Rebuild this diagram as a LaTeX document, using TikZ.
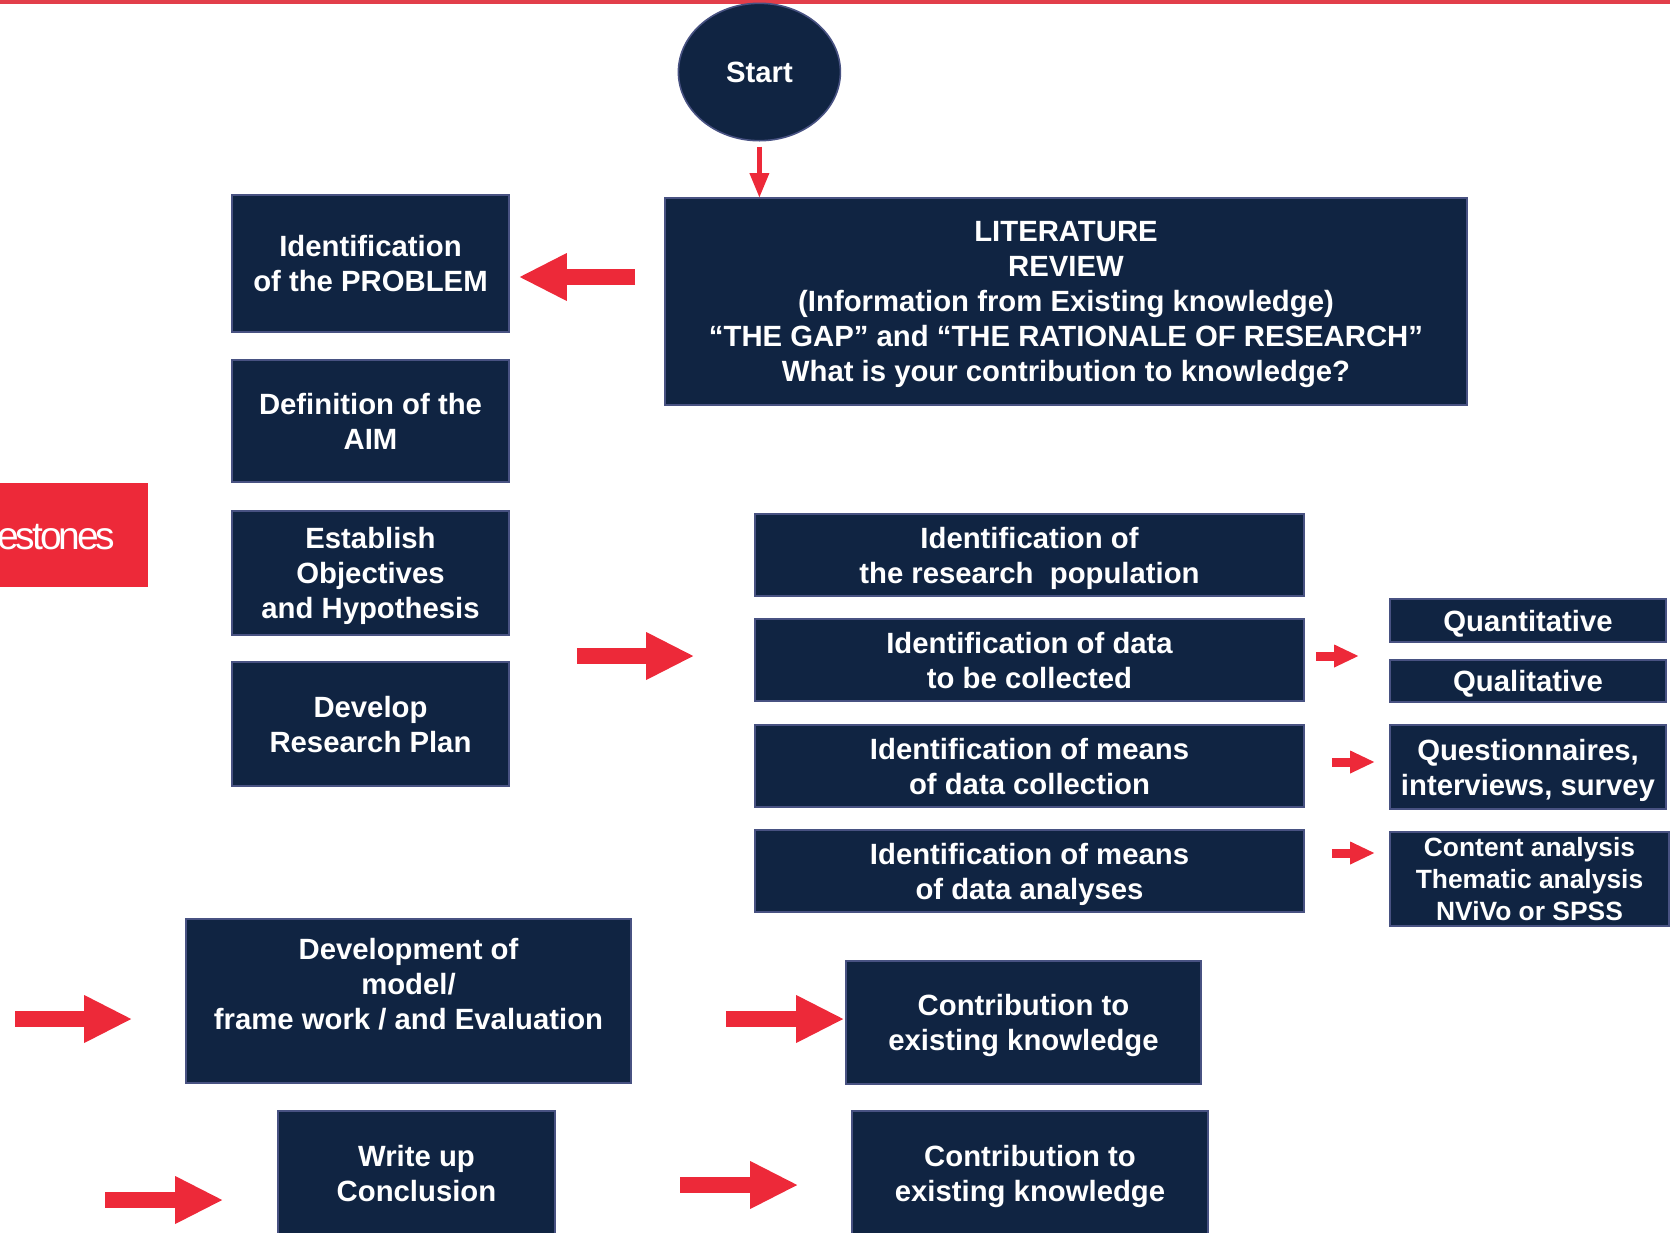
\documentclass[tikz,border=0pt]{standalone}
\usepackage{fontspec}
\setmainfont{Liberation Sans}
\usetikzlibrary{arrows.meta,shapes.geometric}

\definecolor{navy}{RGB}{16,36,66}
\definecolor{boxedge}{RGB}{72,82,130}
\definecolor{flagred}{RGB}{237,41,57}
\definecolor{topred}{RGB}{226,62,74}

\tikzset{every picture/.style={line width=0.75pt}}
\tikzset{
  box/.style={draw=boxedge, fill=navy, text=white, line width=0.8pt, inner sep=0pt,
    align=center, font=\fontsize{14.65pt}{17.5pt}\selectfont\bfseries, text depth=-3pt},
  smallbox/.style={box, font=\fontsize{13.2pt}{16pt}\selectfont\bfseries},
  startnode/.style={box, ellipse},
  bigarrow/.style={draw=flagred, line width=8pt,
    -{Triangle[length=23.5pt, width=24pt, line width=0pt]}},
  smallarrow/.style={draw=flagred, line width=4.5pt,
    -{Triangle[length=12pt, width=11.5pt, line width=0pt]}},
  thinarrow/.style={draw=flagred, line width=2.5pt,
    -{Triangle[length=12pt, width=10pt, line width=0pt]}}
}

\begin{document}
\begin{tikzpicture}[x=0.5pt,y=0.5pt,yscale=-1,xscale=1]
\useasboundingbox (0,0) rectangle (1670,1232);
\clip (0,0) rectangle (1670,1232);

%Top band
\fill[topred] (0,0) rectangle (1670,4);

%Milestones tab
\fill[flagred] (0,483) rectangle (148,587);
\node[anchor=east, inner sep=0pt, text=white,
  font=\fontsize{19.5pt}{21pt}\selectfont\addfontfeatures{LetterSpace=-8}] (milestxt) at (116,537) {estones};

% Start
\node[startnode, minimum width=81pt, minimum height=68.7pt] (start) at (759.4,72) {Start};

% Left column
\node[box, minimum width=138.5pt, minimum height=68.5pt] (problem) at (370.5,263.5) {Identification\\of the PROBLEM};
\node[box, minimum width=138.5pt, minimum height=61pt] (aim) at (370.5,421) {Definition of the\\AIM};
\node[box, minimum width=138.5pt, minimum height=62pt] (objectives) at (370.5,573) {Establish\\Objectives\\and Hypothesis};
\node[box, minimum width=138.5pt, minimum height=62pt] (plan) at (370.5,724) {Develop\\Research Plan};

% Literature review
\node[box, minimum width=401pt, minimum height=103.5pt] (lit) at (1066,301.5) {LITERATURE\\REVIEW\\(Information from Existing knowledge)\\“THE GAP” and “THE RATIONALE OF RESEARCH”\\What is your contribution to knowledge?};

% Research design column
\node[box, minimum width=274.5pt, minimum height=41pt] (population) at (1029.5,555) {Identification of\\the research~ population};
\node[box, minimum width=274.5pt, minimum height=41pt] (data) at (1029.5,660) {Identification of data\\to be collected};
\node[box, minimum width=274.5pt, minimum height=41pt] (collection) at (1029.5,766) {Identification of means\\of data collection};
\node[box, minimum width=274.5pt, minimum height=41pt] (analyses) at (1029.5,871) {Identification of means\\of data analyses};

% Methods column
\node[box, minimum width=138pt, minimum height=21.5pt] (quant) at (1528,620.5) {Quantitative};
\node[box, minimum width=138pt, minimum height=21pt] (qual) at (1528,681) {Qualitative};
\node[box, minimum width=138pt, minimum height=42pt] (quest) at (1528,767) {Questionnaires,\\interviews, survey};
\node[smallbox, minimum width=139.5pt, minimum height=47pt] (content) at (1529.5,879) {Content analysis\\Thematic analysis\\NViVo or SPSS};

% Bottom rows
\node[box, minimum width=222.5pt, minimum height=82pt] (dev) at (408.5,1001) {Development of\\model/\\frame work / and Evaluation\\\mbox{}};
\node[box, minimum width=177.5pt, minimum height=61.5pt] (contribA) at (1023.5,1022.5) {Contribution to\\existing knowledge};
\node[box, minimum width=138.5pt, minimum height=62pt] (writeup) at (416.5,1173) {Write up\\Conclusion};
\node[box, minimum width=178pt, minimum height=62pt] (contribB) at (1030,1173) {Contribution to\\existing knowledge};

% Free arrow tails
\coordinate (inDev) at (15,1019);
\coordinate (inWrite) at (105,1200);
\coordinate (inContrib) at (680,1185);

%Arrows
\draw[thinarrow, shorten <=2.5pt] (start.south) -- (start.south |- lit.north);
\draw[bigarrow, shorten <=14.5pt, shorten >=5pt] (lit.west |- 0,277) -- (problem.east |- 0,277);
\draw[bigarrow, shorten <=33.5pt, shorten >=30.5pt] (plan.east |- 0,656) -- (data.west |- 0,656);
\draw[smallarrow, shorten <=5.5pt, shorten >=15.5pt] (data.east |- 0,656) -- (quant.west |- 0,656);
\draw[smallarrow, shorten <=13.5pt, shorten >=7.5pt] (collection.east |- 0,762) -- (quest.west |- 0,762);
\draw[smallarrow, shorten <=13.5pt, shorten >=7.5pt] (analyses.east |- 0,853) -- (content.west |- 0,853);
\draw[bigarrow, shorten >=27pt] (inDev) -- (dev.west |- inDev);
\draw[bigarrow, shorten <=47pt, shorten >=1pt] (dev.east |- 0,1019) -- (contribA.west |- 0,1019);
\draw[bigarrow, shorten >=27.5pt] (inWrite) -- (writeup.west |- inWrite);
\draw[bigarrow, shorten >=27pt] (inContrib) -- (contribB.west |- inContrib);
\end{tikzpicture}
\end{document}
